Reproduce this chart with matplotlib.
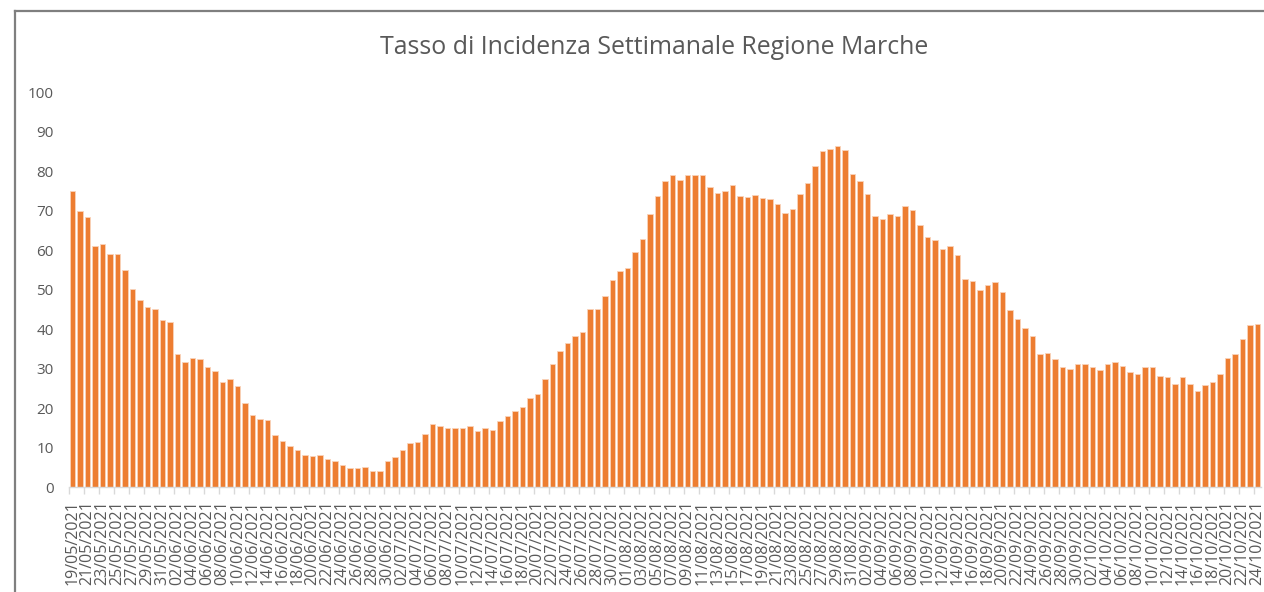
import matplotlib
matplotlib.use("Agg")
import matplotlib.pyplot as plt
import pandas as pd
from matplotlib.lines import Line2D

# ---- data (weekly incidence rate, Marche region) ----
start_date = "2021-05-19"
end_date = "2021-10-24"
may_vals = [75.0, 70.0, 68.5, 61.2, 61.5, 59.1, 59.1, 55.0, 50.2, 47.3, 45.7, 45.2, 42.4]
jun_vals = [41.8, 33.8, 31.6, 32.7, 32.4, 30.4, 29.5, 26.6, 27.3, 25.6, 21.3, 18.3, 17.3, 17.0, 13.2,
            11.7, 10.5, 9.5, 8.2, 7.9, 8.2, 7.2, 6.7, 5.6, 4.8, 4.8, 5.1, 4.2, 4.2, 6.7]
jul_vals = [7.7, 9.4, 11.1, 11.5, 13.5, 15.9, 15.6, 15.1, 15.1, 15.1, 15.4, 14.3, 14.9, 14.6, 16.7,
            18.1, 19.4, 20.4, 22.5, 23.6, 27.3, 31.1, 34.5, 36.5, 38.3, 39.4, 45.2, 45.2, 48.4, 52.4, 54.8]
aug_vals = [55.6, 59.6, 62.8, 69.2, 73.8, 77.5, 79.0, 77.7, 79.0, 79.0, 79.0, 76.1, 74.5, 75.0, 76.6,
            73.7, 73.4, 73.9, 73.2, 72.9, 71.6, 69.5, 70.5, 74.3, 77.1, 81.4, 85.1, 85.7, 86.4, 85.4, 79.3]
sep_vals = [77.5, 74.3, 68.6, 67.8, 69.2, 68.6, 71.3, 70.2, 66.5, 63.3, 62.7, 60.3, 61.2, 58.7, 52.7,
            52.2, 50.0, 51.3, 51.9, 49.5, 44.8, 42.6, 40.4, 38.3, 33.8, 34.0, 32.4, 30.4, 30.0, 31.3]
oct_vals = [31.1, 30.4, 29.7, 31.3, 31.6, 30.6, 29.2, 28.7, 30.4, 30.4, 28.2, 27.9, 26.1, 27.9, 26.1,
            24.5, 25.8, 26.6, 28.7, 32.7, 33.8, 37.6, 41.0, 41.4]
y_ticks = [0, 10, 20, 30, 40, 50, 60, 70, 80, 90, 100]
title_text = "Tasso di Incidenza Settimanale Regione Marche"

values = may_vals + jun_vals + jul_vals + aug_vals + sep_vals + oct_vals
dates = pd.date_range(start_date, end_date, freq="D")
labels = [d.strftime("%d/%m/%Y") for d in dates]
n = len(values)
x = list(range(n))

W, H = 1264, 592
fig = plt.figure(figsize=(W / 100, H / 100), dpi=100)
fig.patch.set_facecolor("white")

FONT = ["Open Sans", "DejaVu Sans"]
GRAY = "#595959"

ax_left, ax_right = 68.9, 1261.4
ax_bottom_px, ax_top_px = 487.3, 92.3
ax = fig.add_axes([ax_left / W, (H - ax_bottom_px) / H,
                   (ax_right - ax_left) / W, (ax_bottom_px - ax_top_px) / H])
ax.set_facecolor("none")

ax.bar(x, values, width=0.72, color="#ED7D31", edgecolor="#F9D3BA", linewidth=0.6, zorder=2)

ax.set_xlim(-0.5, n - 0.5)
ax.set_ylim(0, 100)
ax.set_yticks(y_ticks)
ax.set_yticklabels([str(t) for t in y_ticks], fontfamily=FONT, fontsize=11, color=GRAY)
ax.tick_params(axis="y", length=0, pad=11)

lab_pos = x[::2]
ax.set_xticks(lab_pos)
ax.set_xticklabels([labels[i] for i in lab_pos], rotation=90, fontfamily=FONT,
                   fontsize=11.5, color=GRAY, va="top", ha="center")
ax.tick_params(axis="x", which="major", length=0, pad=9)
ax.set_xticks([i - 0.5 for i in range(0, n + 1, 2)], minor=True)
ax.tick_params(axis="x", which="minor", length=5, width=1, color="#D9D9D9")

for side in ["left", "right", "top"]:
    ax.spines[side].set_visible(False)
ax.spines["bottom"].set_color("#D9D9D9")
ax.spines["bottom"].set_linewidth(1)
ax.spines["bottom"].set_zorder(3)

fig.text(654 / W, 1 - 48 / H, title_text, ha="center", va="center",
         fontfamily=FONT, fontsize=17.9, color=GRAY)

# chart area border (top and left edges visible)
fig.add_artist(Line2D([15 / W, 1.0], [1 - 11 / H, 1 - 11 / H], color="#7F7F7F", lw=1.6,
                      transform=fig.transFigure))
fig.add_artist(Line2D([15 / W, 15 / W], [0, 1 - 11 / H], color="#7F7F7F", lw=1.6,
                      transform=fig.transFigure))

fig.savefig("out.png", dpi=100, facecolor="white")
